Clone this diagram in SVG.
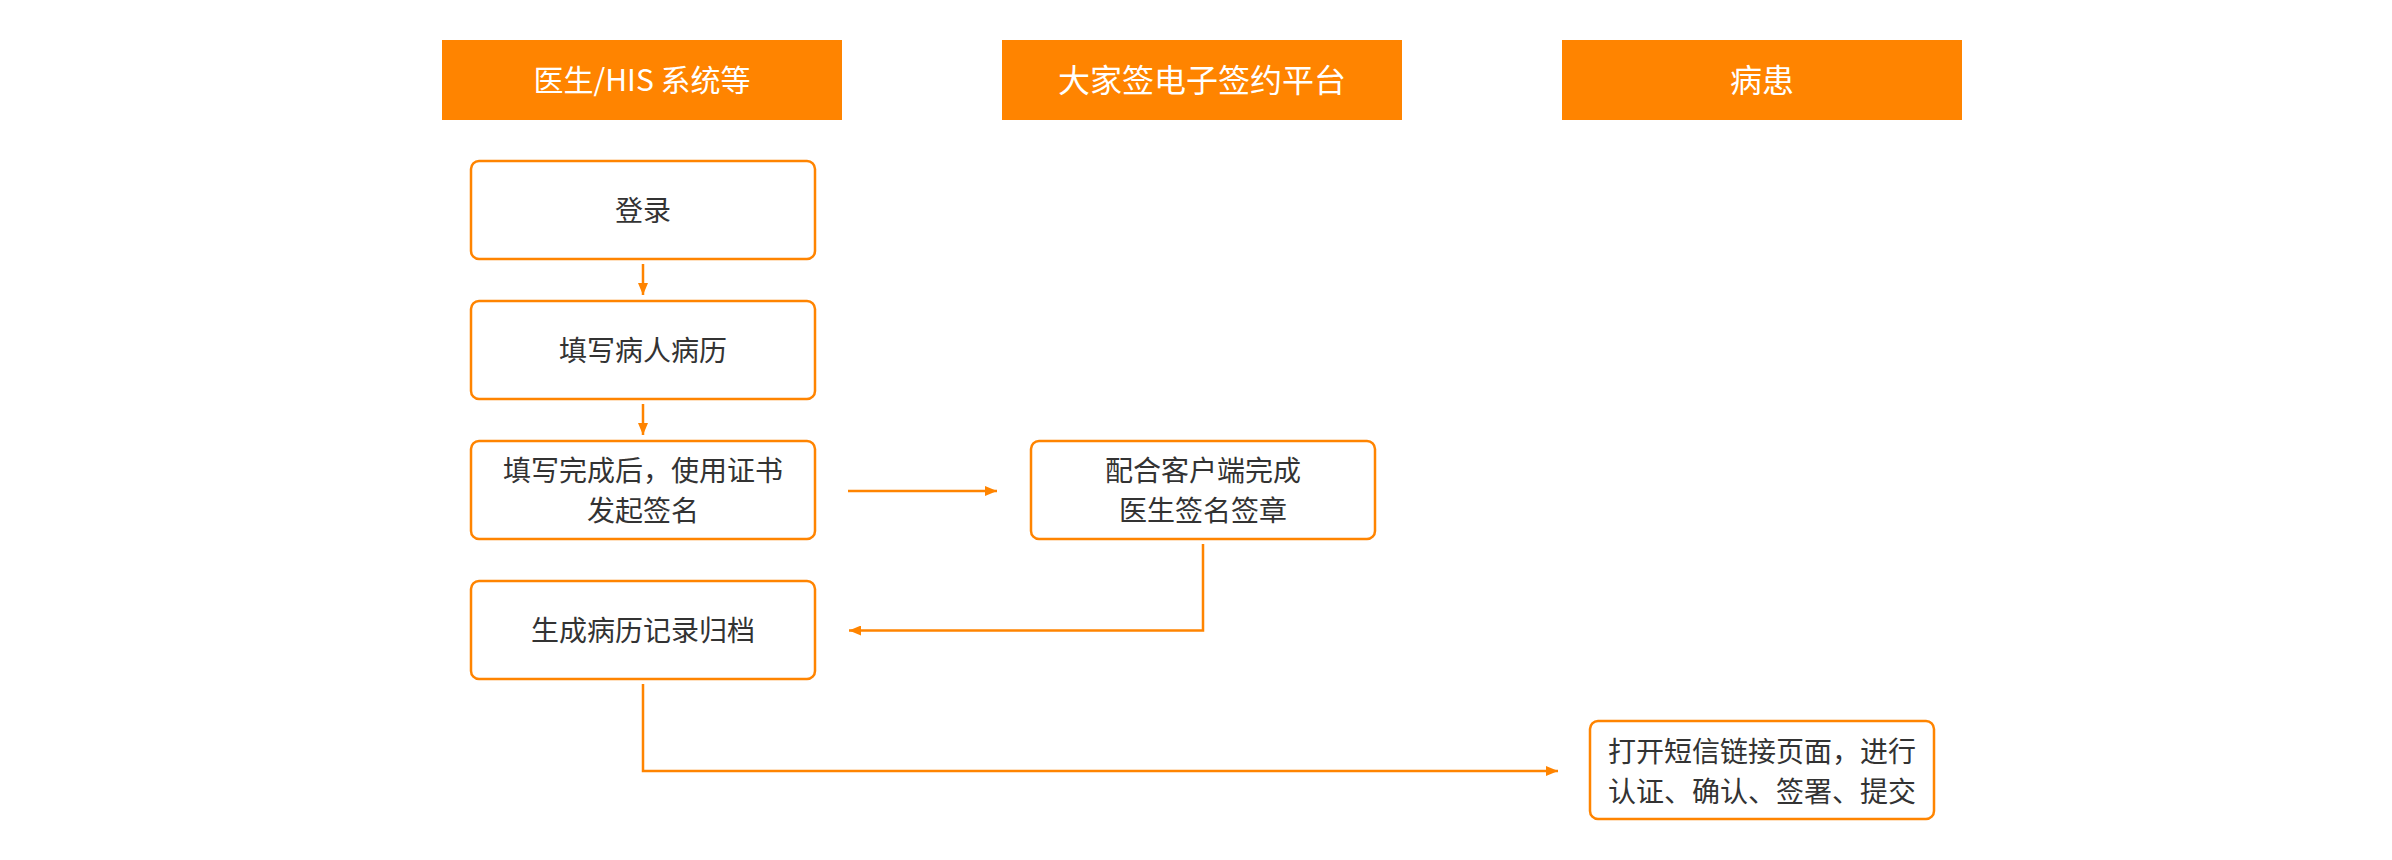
<svg xmlns="http://www.w3.org/2000/svg" width="2392" height="860" viewBox="0 0 2392 860">
<defs>
<style>
.hdr{fill:#FF8400;}
.hdrt{fill:#FFFFFF;font-family:"Noto Sans CJK SC","Noto Sans",sans-serif;font-size:32px;text-anchor:middle;}
.box{fill:#FFFFFF;stroke:#FF8400;stroke-width:2.5;}
.bt{fill:#333333;font-family:"Noto Sans CJK SC","Noto Sans",sans-serif;font-size:28px;text-anchor:middle;}
.conn{fill:none;stroke:#FF8400;stroke-width:2.5;marker-end:url(#arr);}
</style>
<marker id="arr" markerUnits="userSpaceOnUse" markerWidth="12" markerHeight="10" refX="12" refY="5" orient="auto" viewBox="0 0 12 10">
<path d="M0,0 L12,5 L0,10 z" fill="#FF8400"/>
</marker>
</defs>
<rect x="0" y="0" width="2392" height="860" fill="#FFFFFF"/>
<g id="lane-doctor">
<rect class="hdr" x="442" y="40" width="400" height="80"/>
<text class="hdrt" x="642" y="91" style="font-size:30px">医生/HIS 系统等</text>
</g>
<g id="lane-platform">
<rect class="hdr" x="1002" y="40" width="400" height="80"/>
<text class="hdrt" x="1202" y="92">大家签电子签约平台</text>
</g>
<g id="lane-patient">
<rect class="hdr" x="1562" y="40" width="400" height="80"/>
<text class="hdrt" x="1762" y="92">病患</text>
</g>
<g id="connectors">
<path class="conn" d="M643,264 L643,295"/>
<path class="conn" d="M643,404 L643,435"/>
<path class="conn" d="M848,491 L997,491"/>
<path class="conn" d="M1203,544 L1203,630.5 L849,630.5"/>
<path class="conn" d="M643,684 L643,771 L1558,771"/>
</g>
<g id="login">
<rect class="box" x="471" y="161" width="344" height="98" rx="8"/>
<text class="bt" x="643" y="220.5">登录</text>
</g>
<g id="fill-record">
<rect class="box" x="471" y="301" width="344" height="98" rx="8"/>
<text class="bt" x="643" y="360.5">填写病人病历</text>
</g>
<g id="initiate-sign">
<rect class="box" x="471" y="441" width="344" height="98" rx="8"/>
<text class="bt" x="643" y="480.5">填写完成后，使用证书</text>
<text class="bt" x="643" y="520.5">发起签名</text>
</g>
<g id="client-sign">
<rect class="box" x="1031" y="441" width="344" height="98" rx="8"/>
<text class="bt" x="1203" y="480.5">配合客户端完成</text>
<text class="bt" x="1203" y="520.5">医生签名签章</text>
</g>
<g id="archive">
<rect class="box" x="471" y="581" width="344" height="98" rx="8"/>
<text class="bt" x="643" y="640.5">生成病历记录归档</text>
</g>
<g id="patient-sign">
<rect class="box" x="1590" y="721" width="344" height="98" rx="8"/>
<text class="bt" x="1762" y="762">打开短信链接页面，进行</text>
<text class="bt" x="1762" y="802">认证、确认、签署、提交</text>
</g>
</svg>
